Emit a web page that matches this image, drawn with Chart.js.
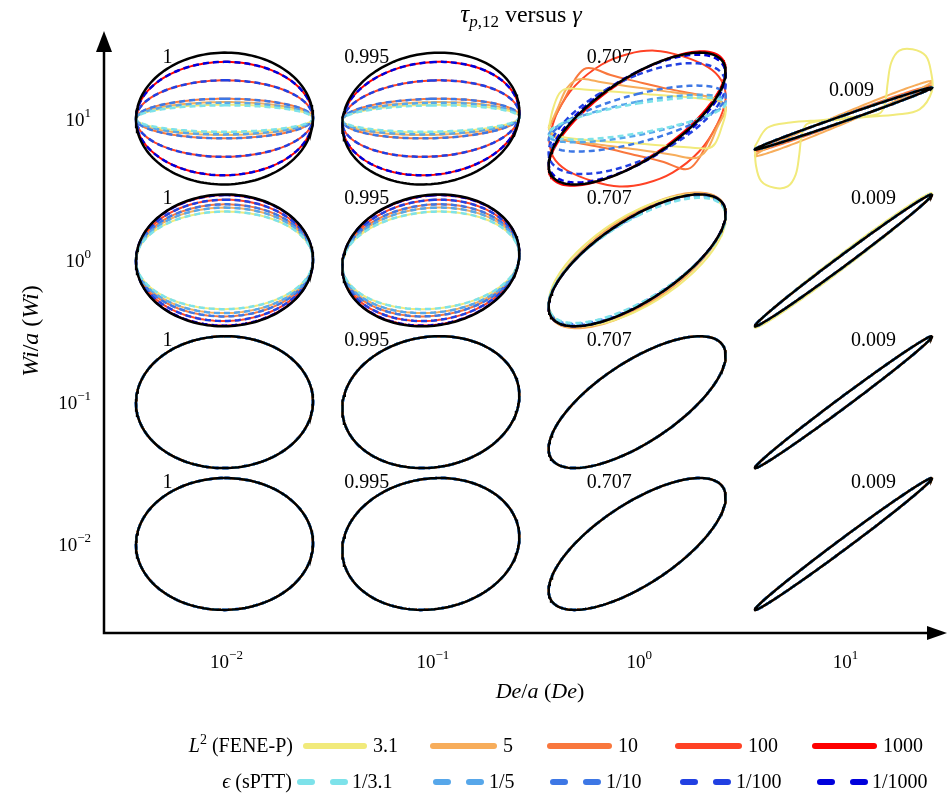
<!DOCTYPE html>
<html>
<head>
<meta charset="utf-8">
<script src="https://cdn.jsdelivr.net/npm/chart.js@4.4.0/dist/chart.umd.min.js"></script>
<style>
  html, body { margin: 0; padding: 0; background: #fff; }
  canvas { display: block; }
</style>
</head>
<body>
<canvas id="pipkin" width="949" height="796"></canvas>
<script>
// Pipkin grid: columns De/a = 10^-2..10^1, rows Wi/a = 10^1..10^-2 (top to bottom)
const deExp = ['\u22122', '\u22121', '0', '1'];
const wiExp = ['1', '0', '\u22121', '\u22122'];
const cornerLabels = ['1', '0.995', '0.707', '0.009'];
const phaseDeg = [89.4, 84.3, 45, 5.7];   // linear loop phase per column

const feneLabels = ['3.1', '5', '10', '100', '1000'];
const ptLabels = ['1/3.1', '1/5', '1/10', '1/100', '1/1000'];
const feneColors = ['#f1ea7b', '#f7ad5b', '#f9773d', '#ff4225', '#fe0000'];
const ptColors = ['#7de2ea', '#57a7ea', '#3d77e5', '#2140e2', '#0000dc'];

// loop height relative to the linear loop  [row][column][model]; null = traced loop below
const feneAmp = [
  [[0.21, 0.25, 0.30, 0.58, 0.86], [0.21, 0.25, 0.30, 0.58, 0.86], [null, null, null, null, 1.02], [null, 0.57, 0.50, 0.48, 0.47]],
  [[0.74, 0.80, 0.85, 0.92, 0.99], [0.74, 0.80, 0.85, 0.92, 0.99], [1.00, 1.03, 1.02, 1, 1], [1.02, 1.01, 1, 1, 1]],
  [[1, 1, 1, 1, 1], [1, 1, 1, 1, 1], [1, 1, 1, 1, 1], [1, 1, 1, 1, 1]],
  [[1, 1, 1, 1, 1], [1, 1, 1, 1, 1], [1, 1, 1, 1, 1], [1, 1, 1, 1, 1]]
];
const fenePhase = [
  [null, null, [45, 45, 45, 45, 43], [5.7, 8, 6.5, 6, 5.7]],
  [null, null, [50, 47, 46, 45, 45], [7, 6, 5.7, 5.7, 5.7]],
  [null, null, null, null],
  [null, null, null, null]
];
const ptAmp = [
  [[0.20, 0.24, 0.30, 0.58, 0.86], [0.20, 0.24, 0.30, 0.58, 0.86], [0.32, 0.36, 0.50, 0.84, 0.97], [0.47, 0.47, 0.47, 0.47, 0.47]],
  [[0.74, 0.80, 0.85, 0.92, 0.99], [0.74, 0.80, 0.85, 0.92, 0.99], [0.95, 0.96, 0.97, 0.99, 1], [1, 1, 1, 1, 1]],
  [[1, 1, 1, 1, 1], [1, 1, 1, 1, 1], [1, 1, 1, 1, 1], [1, 1, 1, 1, 1]],
  [[1, 1, 1, 1, 1], [1, 1, 1, 1, 1], [1, 1, 1, 1, 1], [1, 1, 1, 1, 1]]
];
const ptPhase = [
  [null, null, [45, 45, 48, 52, 47], null],
  [null, null, null, null],
  [null, null, null, null],
  [null, null, null, null]
];
const linearAmp = [[1, 1, 1, 0.47], [1, 1, 1, 1], [1, 1, 1, 1], [1, 1, 1, 1]];

// traced FENE-P loops at Wi/a = 10, half cycle from left tip to right tip
// (x: strain / amplitude, y: stress / linear loop height); the return half is point-symmetric
const traceDe1 = [
  [[-1, -0.15], [-0.95, 0.15], [-0.88, 0.38], [-0.8, 0.45], [-0.6, 0.44], [0, 0.38], [0.6, 0.32], [0.9, 0.26], [1, 0.15]],
  [[-1, -0.15], [-0.9, 0.15], [-0.8, 0.45], [-0.7, 0.58], [-0.6, 0.6], [-0.4, 0.55], [0, 0.47], [0.4, 0.4], [0.8, 0.33], [0.95, 0.26], [1, 0.15]],
  [[-1, -0.13], [-0.9, 0.1], [-0.8, 0.35], [-0.7, 0.6], [-0.6, 0.75], [-0.5, 0.76], [-0.3, 0.66], [0, 0.56], [0.35, 0.45], [0.7, 0.36], [0.92, 0.28], [1, 0.13]],
  [[-1, -0.3], [-0.9, 0.1], [-0.7, 0.5], [-0.4, 0.82], [-0.1, 0.98], [0.2, 1.03], [0.5, 0.95], [0.8, 0.78], [0.95, 0.58], [1, 0.3]]
];
const traceDe10 = [
  [[-1, -0.42], [-0.86, -0.14], [-0.6, -0.06], [-0.23, -0.02], [0.14, 0.03], [0.41, 0.08], [0.47, 0.24], [0.5, 0.55],
   [0.54, 0.85], [0.63, 1.03], [0.78, 1.05], [0.93, 0.95], [0.99, 0.7], [1, 0.42]]
];

const AX = 0.429;   // half width of a loop, column units
const BY = 0.465;   // half height of the linear loop, row units

function loop(c, r, amp, phase) {
  const pts = [];
  const d = phase * Math.PI / 180;
  for (let i = 0; i <= 160; i++) {
    const t = 2 * Math.PI * i / 160;
    pts.push({ x: c + AX * Math.sin(t), y: r + BY * amp * Math.sin(t + d) });
  }
  return pts;
}

function traced(c, r, half) {
  const pts = half.map(p => ({ x: c + AX * p[0], y: r + BY * p[1] }));
  half.forEach((p, i) => { if (i > 0) pts.push({ x: c - AX * p[0], y: r - BY * p[1] }); });
  return pts;
}

const datasets = [];
for (let k = 0; k < 4; k++) {
  const r = 3 - k;
  for (let c = 0; c < 4; c++) {
    for (let i = 0; i < 5; i++) {
      const amp = feneAmp[k][c][i];
      const ph = fenePhase[k][c] ? fenePhase[k][c][i] : phaseDeg[c];
      let pts;
      if (amp === null) pts = traced(c, r, c === 2 ? traceDe1[i] : traceDe10[i]);
      else pts = loop(c, r, amp, ph);
      datasets.push({ data: pts, borderColor: feneColors[i], borderWidth: 2, order: 2, tension: amp === null ? 0.35 : 0 });
    }
    for (let i = 0; i < 5; i++) {
      const ph = ptPhase[k][c] ? ptPhase[k][c][i] : phaseDeg[c];
      datasets.push({ data: loop(c, r, ptAmp[k][c][i], ph), borderColor: ptColors[i], borderWidth: 2.5, borderDash: [6, 4], order: 1 });
    }
    datasets.push({ data: loop(c, r, linearAmp[k][c], phaseDeg[c]), borderColor: '#000', borderWidth: 2.5, order: 0 });
  }
}

const SERIF = "'Liberation Serif', 'DejaVu Serif', serif";

// draw a list of [text, size, italic, dy] runs
function runs(ctx, list, x, y, align) {
  const f = r => (r[2] ? 'italic ' : '') + r[1] + 'px ' + SERIF;
  let w = 0;
  list.forEach(r => { ctx.font = f(r); w += ctx.measureText(r[0]).width; });
  let cx = align === 'center' ? x - w / 2 : (align === 'right' ? x - w : x);
  ctx.textAlign = 'left';
  ctx.textBaseline = 'alphabetic';
  list.forEach(r => {
    ctx.font = f(r);
    ctx.fillText(r[0], cx, y + (r[3] || 0));
    cx += ctx.measureText(r[0]).width;
  });
}

const decor = {
  id: 'decor',
  afterDraw(chart) {
    const ctx = chart.ctx;
    const xs = chart.scales.x, ys = chart.scales.y;
    const a = chart.chartArea;
    ctx.save();
    ctx.fillStyle = '#000';
    ctx.strokeStyle = '#000';
    // axes with arrow heads
    ctx.lineWidth = 2.5;
    ctx.beginPath();
    ctx.moveTo(a.left, 50);
    ctx.lineTo(a.left, a.bottom);
    ctx.lineTo(a.right - 14, a.bottom);
    ctx.stroke();
    ctx.beginPath();
    ctx.moveTo(a.left, 31); ctx.lineTo(a.left - 8, 52); ctx.lineTo(a.left + 8, 52); ctx.closePath(); ctx.fill();
    ctx.beginPath();
    ctx.moveTo(a.right + 2, a.bottom); ctx.lineTo(a.right - 18, a.bottom - 7); ctx.lineTo(a.right - 18, a.bottom + 7); ctx.closePath(); ctx.fill();

    // tick labels
    deExp.forEach((e, c) => {
      runs(ctx, [['10', 19, false], [e, 13, false, -9]], xs.getPixelForValue(c) + 2, 668, 'center');
    });
    wiExp.forEach((e, k) => {
      runs(ctx, [['10', 19, false], [e, 13, false, -9]], 91, ys.getPixelForValue(3 - k) + 7, 'right');
    });

    // phase labels in each cell
    for (let k = 0; k < 4; k++) {
      for (let c = 0; c < 4; c++) {
        let px = xs.getPixelForValue(c) + [-57, -64, -28, 30][c];
        let py = ys.getPixelForValue(3 - k) - 56;
        if (k === 0 && c === 3) { px -= 22; py += 33; }
        runs(ctx, [[cornerLabels[c], 20, false]], px, py, 'center');
      }
    }

    // title and axis titles
    runs(ctx, [['\u03c4', 25, true], ['p', 17, true, 5], [',12', 17, false, 5], [' versus ', 24, false], ['\u03b3', 24, true]], 521, 22, 'center');
    runs(ctx, [['De', 22, true], ['/', 22, false], ['a', 22, true], [' (', 22, false], ['De', 22, true], [')', 22, false]], 540, 698, 'center');
    ctx.save();
    ctx.translate(38, 331);
    ctx.rotate(-Math.PI / 2);
    runs(ctx, [['Wi', 24, true], ['/', 24, false], ['a', 24, true], [' (', 24, false], ['Wi', 24, true], [')', 24, false]], 0, 0, 'center');
    ctx.restore();

    // legend
    const lineX = [303, 430, 547, 675, 812];
    const lineEnd = [367, 497, 612, 742, 877];
    const dashX = [297, 433, 550, 680, 817];
    const dashEnd = [348, 485, 602, 732, 868];
    runs(ctx, [['L', 20, true], ['2', 14, false, -8], [' (FENE-P)', 20, false]], 293, 752, 'right');
    runs(ctx, [['\u03f5', 20, true], [' (sPTT)', 20, false]], 292, 788, 'right');
    ctx.lineWidth = 6;
    ctx.lineCap = 'round';
    for (let i = 0; i < 5; i++) {
      ctx.strokeStyle = feneColors[i];
      ctx.setLineDash([]);
      ctx.beginPath(); ctx.moveTo(lineX[i] + 3, 746); ctx.lineTo(lineEnd[i] - 3, 746); ctx.stroke();
      runs(ctx, [[feneLabels[i], 20, false]], lineEnd[i] + 6, 752, 'left');
      ctx.strokeStyle = ptColors[i];
      ctx.setLineDash([12, 21]);
      ctx.beginPath(); ctx.moveTo(dashX[i] + 3, 782); ctx.lineTo(dashEnd[i] - 3, 782); ctx.stroke();
      runs(ctx, [[ptLabels[i], 20, false]], dashEnd[i] + 4, 788, 'left');
    }
    ctx.restore();
  }
};

new Chart(document.getElementById('pipkin'), {
  type: 'scatter',
  data: { datasets: datasets },
  options: {
    responsive: false,
    animation: false,
    showLine: true,
    layout: { padding: { left: 104, right: 4, top: 40, bottom: 163 } },
    elements: { point: { radius: 0 }, line: { fill: false } },
    scales: {
      x: { type: 'linear', min: -0.584, max: 3.492, display: false },
      y: { type: 'linear', min: -0.628, max: 3.554, display: false }
    },
    plugins: { legend: { display: false }, tooltip: { enabled: false } }
  },
  plugins: [decor]
});
</script>
</body>
</html>
